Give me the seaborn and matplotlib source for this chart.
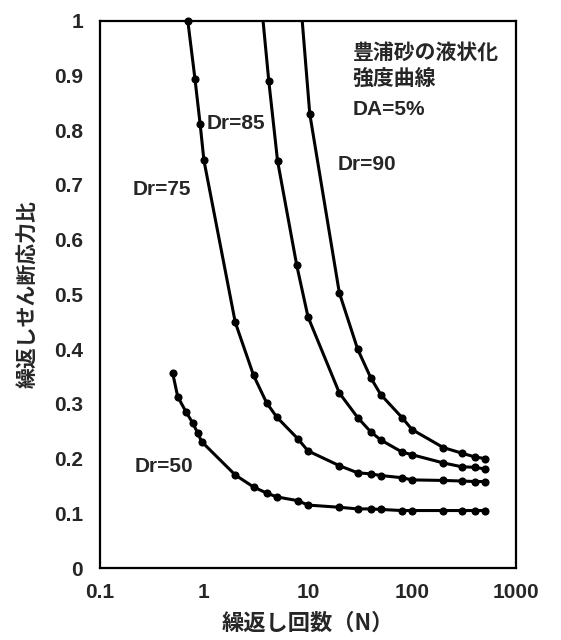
import matplotlib
matplotlib.use("Agg")
import matplotlib.pyplot as plt
import seaborn as sns
import pandas as pd
from matplotlib.ticker import MultipleLocator, LogLocator, NullFormatter, FixedLocator, FixedFormatter

sns.set_style("white")
plt.rcParams['font.family'] = ['Liberation Sans', 'Noto Sans CJK JP', 'DejaVu Sans']
plt.rcParams['font.weight'] = 'bold'

# data (measured points)
n50 = [0.5, 0.56, 0.67, 0.78, 0.87, 0.95, 2, 3, 4, 5, 8, 10, 20, 30, 40, 50, 80, 100, 200, 300, 400, 500]
r50 = [0.357, 0.313, 0.286, 0.265, 0.247, 0.231, 0.170, 0.148, 0.137, 0.130, 0.123, 0.115, 0.111, 0.108,
       0.108, 0.107, 0.105, 0.105, 0.105, 0.105, 0.105, 0.105]
n75 = [0.7, 0.82, 0.92, 1.0, 2, 3, 4, 5, 8, 10, 20, 30, 40, 50, 80, 100, 200, 300, 400, 500]
r75 = [1.0, 0.894, 0.811, 0.745, 0.449, 0.352, 0.302, 0.276, 0.236, 0.214, 0.187, 0.174, 0.172, 0.169,
       0.165, 0.161, 0.160, 0.159, 0.158, 0.158]
n85 = [4.2, 5.1, 7.8, 10, 20, 30, 40, 50, 80, 100, 200, 300, 400, 500]
r85 = [0.89, 0.744, 0.553, 0.459, 0.32, 0.275, 0.249, 0.234, 0.212, 0.207, 0.192, 0.185, 0.184, 0.181]
n90 = [10.4, 20, 30, 40, 50, 80, 100, 200, 300, 400, 500]
r90 = [0.83, 0.503, 0.40, 0.348, 0.317, 0.275, 0.253, 0.22, 0.21, 0.203, 0.2]
# where the curves for Dr=85 and Dr=90 leave the top of the plot (line only)
top85 = (3.7, 1.0)
top90 = (8.8, 1.0)

series = [("Dr=50", n50, r50, None), ("Dr=75", n75, r75, None),
          ("Dr=85", n85, r85, top85), ("Dr=90", n90, r90, top90)]

xticks = [0.1, 1, 10, 100, 1000]
xticklabels = ["0.1", "1", "10", "100", "1000"]
yticks = [0, 0.1, 0.2, 0.3, 0.4, 0.5, 0.6, 0.7, 0.8, 0.9, 1]
yticklabels = ["0", "0.1", "0.2", "0.3", "0.4", "0.5", "0.6", "0.7", "0.8", "0.9", "1"]

fig = plt.figure(figsize=(5.61, 6.40), dpi=100)
ax = fig.add_axes([0.178, 0.1125, 0.742, 0.855])

for name, nx, ry, top in series:
    lx = ([top[0]] if top else []) + nx
    ly = ([top[1]] if top else []) + ry
    df_line = pd.DataFrame({"N": lx, "r": ly})
    sns.lineplot(data=df_line, x="N", y="r", ax=ax, color="black", linewidth=2.2,
                 sort=False, estimator=None, clip_on=True)
    df_pts = pd.DataFrame({"N": nx, "r": ry})
    sns.scatterplot(data=df_pts, x="N", y="r", ax=ax, color="black", s=34,
                    edgecolor="black", linewidth=0, zorder=5, clip_on=False)

ax.set_xscale("log")
ax.set_xlim(0.1, 1000)
ax.set_ylim(0, 1)
ax.xaxis.set_major_locator(FixedLocator(xticks))
ax.xaxis.set_major_formatter(FixedFormatter(xticklabels))
ax.xaxis.set_minor_locator(LogLocator(base=10, subs=range(2, 10), numticks=20))
ax.xaxis.set_minor_formatter(NullFormatter())
ax.yaxis.set_major_locator(FixedLocator(yticks))
ax.yaxis.set_major_formatter(FixedFormatter(yticklabels))
ax.yaxis.set_minor_locator(MultipleLocator(0.02))

ax.tick_params(axis="both", which="major", direction="in", length=7, width=1.5,
               labelsize=15, pad=12, top=False, right=False)
ax.tick_params(axis="both", which="minor", direction="in", length=4, width=1.2,
               top=False, right=False)
ax.tick_params(axis="x", which="major", pad=11)
for lab in ax.get_xticklabels() + ax.get_yticklabels():
    lab.set_fontweight("bold")

for sp in ax.spines.values():
    sp.set_linewidth(1.6)
    sp.set_color("black")

jp = ['Noto Sans CJK JP', 'DejaVu Sans']
ax.set_xlabel("繰返し回数（N）", fontsize=16, fontweight="bold", family=jp, labelpad=7)
ax.set_ylabel("繰返しせん断応力比", fontsize=15, fontweight="bold", family=jp, labelpad=11)

ax.text(26.8, 0.943, "豊浦砂の液状化", fontsize=15, fontweight="bold", family=jp, ha="left", va="center")
ax.text(26.8, 0.894, "強度曲線", fontsize=15, fontweight="bold", family=jp, ha="left", va="center")
ax.text(26.8, 0.837, "DA=5%", fontsize=15, fontweight="bold", ha="left", va="center")
ax.text(19.2, 0.737, "Dr=90", fontsize=15, fontweight="bold", ha="left", va="center")
ax.text(1.07, 0.812, "Dr=85", fontsize=15, fontweight="bold", ha="left", va="center")
ax.text(0.208, 0.691, "Dr=75", fontsize=15, fontweight="bold", ha="left", va="center")
ax.text(0.217, 0.186, "Dr=50", fontsize=15, fontweight="bold", ha="left", va="center")

fig.savefig("out.png", dpi=100)
